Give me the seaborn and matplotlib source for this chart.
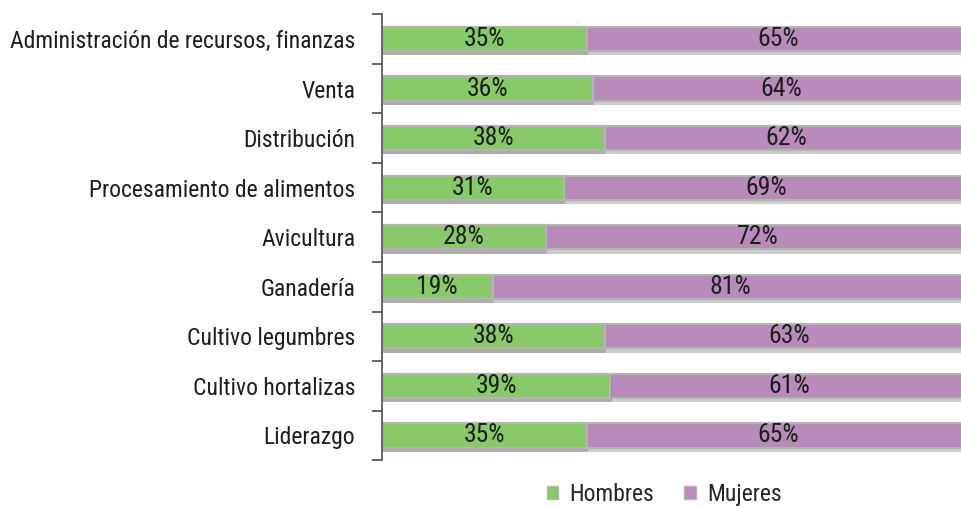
import matplotlib
matplotlib.use("Agg")
import matplotlib.pyplot as plt
import matplotlib.patheffects as pe
from matplotlib.patches import Patch
import seaborn as sns
import pandas as pd

categories = ["Administración de recursos, finanzas", "Venta", "Distribución",
              "Procesamiento de alimentos", "Avicultura", "Ganadería",
              "Cultivo legumbres", "Cultivo hortalizas", "Liderazgo"]
hombres = [35, 36, 38, 31, 28, 19, 38, 39, 35]
mujeres = [65, 64, 62, 69, 72, 81, 63, 61, 65]

green = "#88c96a"
purple = "#b88bbb"
edge = "#b4b4b4"
txt = "#1e1e1e"
FS = 17
FS_BAR = 18.5

df = pd.DataFrame({"cat": categories, "Hombres": hombres, "Mujeres": mujeres})
df["total"] = df["Hombres"] + df["Mujeres"]

sns.set_theme(style="white")
plt.rcParams["font.family"] = ["Roboto Condensed", "DejaVu Sans"]

fig = plt.figure(figsize=(9.61, 5.08), dpi=100)
ax = fig.add_axes([0.397, 0.094, 0.603, 0.878])

shadow = [pe.SimplePatchShadow(offset=(1, -3), shadow_rgbFace="#808080", alpha=0.4), pe.Normal()]

sns.barplot(data=df, y="cat", x="total", color=purple, orient="h", width=0.49,
            edgecolor=edge, linewidth=1.5, ax=ax, saturation=1)
sns.barplot(data=df, y="cat", x="Hombres", color=green, orient="h", width=0.49,
            edgecolor=edge, linewidth=1.5, ax=ax, saturation=1)
for p in ax.patches:
    p.set_path_effects(shadow)

for i, (h, m) in enumerate(zip(hombres, mujeres)):
    ax.text(h / 2, i, f"{h}%", ha="center", va="center", fontsize=FS_BAR, color=txt)
    ax.text(h + m / 2, i, f"{m}%", ha="center", va="center", fontsize=FS_BAR, color=txt)

ax.set_xlim(0, 98.7)
ax.set_ylim(len(categories) - 0.5, -0.5)
ax.set_xlabel("")
ax.set_ylabel("")
ax.set_xticks([])
for s in ["top", "right", "bottom"]:
    ax.spines[s].set_visible(False)
ax.spines["left"].set_color("#595959")
ax.spines["left"].set_linewidth(1.3)
ax.set_yticks([i for i in range(len(categories))])
ax.set_yticklabels(categories, fontsize=FS, color=txt)
ax.tick_params(axis="y", which="major", left=False, length=0, pad=19)
ax.set_yticks([i - 0.5 for i in range(len(categories) + 1)], minor=True)
ax.tick_params(axis="y", which="minor", left=True, length=7, width=1.3,
               color="#595959", direction="out")

handles = [Patch(facecolor=green, edgecolor=edge, label="Hombres"),
           Patch(facecolor=purple, edgecolor=edge, label="Mujeres")]
fig.legend(handles=handles, loc="center", bbox_to_anchor=(0.691, 0.027), ncol=2,
           frameon=False, fontsize=FS, handlelength=0.5, handleheight=0.5,
           handletextpad=0.45, columnspacing=1.3)

fig.savefig("out.png", dpi=100)
